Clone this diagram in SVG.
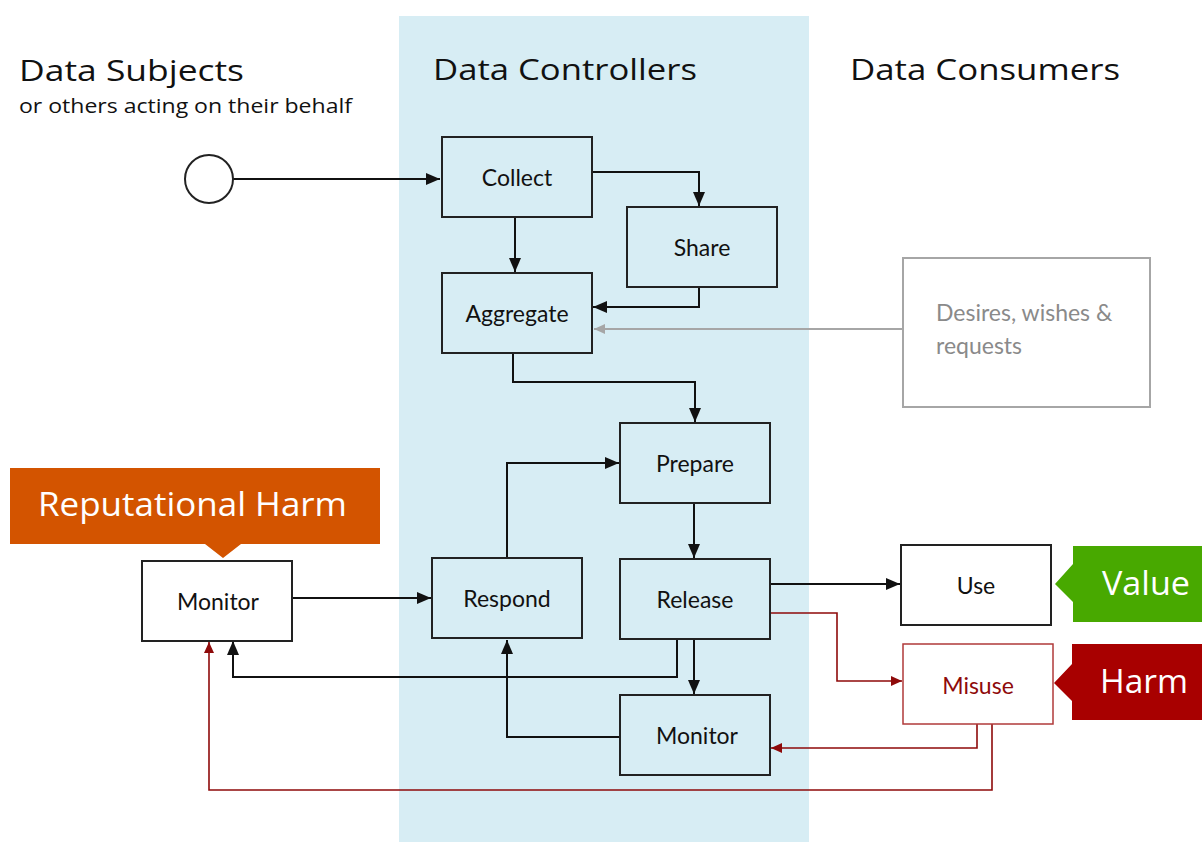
<svg xmlns="http://www.w3.org/2000/svg" width="1202" height="842" viewBox="0 0 1202 842">
  <style>
    .hdr { font-family: "Open Sans", "Liberation Sans", sans-serif; font-size: 30px; fill: #111; }
    .sub { font-family: "Open Sans", "Liberation Sans", sans-serif; font-size: 20px; fill: #111; }
    .box { fill: #d7edf4; stroke: #222; stroke-width: 2; }
    .wbox { fill: #fff; stroke: #222; stroke-width: 2; }
    .lbl { font-family: Lato, "Open Sans", sans-serif; font-size: 23px; fill: #111; text-anchor: middle; }
    .badge { font-family: "Open Sans", "Liberation Sans", sans-serif; font-size: 32px; fill: #fff; }
    .k { fill: none; stroke: #111; stroke-width: 2; }
    .r { fill: none; stroke: #8e0a0a; stroke-width: 1.6; }
    .g { fill: none; stroke: #a6a6a6; stroke-width: 2; }
  </style>
  <defs>
    <marker id="ak" viewBox="0 0 14 12" refX="14" refY="6" markerWidth="14" markerHeight="12" markerUnits="userSpaceOnUse" orient="auto">
      <path d="M0,0 L14,6 L0,12 Z" fill="#111"/>
    </marker>
    <marker id="ar" viewBox="0 0 11 10" refX="11" refY="5" markerWidth="11" markerHeight="10" markerUnits="userSpaceOnUse" orient="auto">
      <path d="M0,0 L11,5 L0,10 Z" fill="#8e0a0a"/>
    </marker>
    <marker id="ag" viewBox="0 0 11 10" refX="11" refY="5" markerWidth="11" markerHeight="10" markerUnits="userSpaceOnUse" orient="auto">
      <path d="M0,0 L11,5 L0,10 Z" fill="#a6a6a6"/>
    </marker>
  </defs>

  <rect width="1202" height="842" fill="#fff"/>
  <!-- controller lane -->
  <rect x="399" y="16" width="410" height="826" fill="#d7edf4"/>

  <!-- lane headings -->
  <g id="headings">
    <text class="hdr" x="19" y="81" textLength="225" lengthAdjust="spacingAndGlyphs">Data Subjects</text>
    <text class="sub" x="19" y="113" textLength="333" lengthAdjust="spacingAndGlyphs">or others acting on their behalf</text>
    <text class="hdr" x="433" y="80" textLength="264" lengthAdjust="spacingAndGlyphs">Data Controllers</text>
    <text class="hdr" x="850" y="80" textLength="270" lengthAdjust="spacingAndGlyphs">Data Consumers</text>
  </g>

  <!-- connectors -->
  <g id="connectors">
    <path class="k" d="M233,179 H440" marker-end="url(#ak)"/>
    <path class="k" d="M592,172 H699 V206" marker-end="url(#ak)"/>
    <path class="k" d="M515,217 V272" marker-end="url(#ak)"/>
    <path class="k" d="M699,287 V307 H593" marker-end="url(#ak)"/>
    <path class="g" d="M903,329 H594" marker-end="url(#ag)"/>
    <path class="k" d="M513,353 V382 H695 V422" marker-end="url(#ak)"/>
    <path class="k" d="M507,558 V463 H619" marker-end="url(#ak)"/>
    <path class="k" d="M694,503 V558" marker-end="url(#ak)"/>
    <path class="k" d="M292,598 H431" marker-end="url(#ak)"/>
    <path class="k" d="M770,584 H900" marker-end="url(#ak)"/>
    <path class="k" d="M694,639 V694" marker-end="url(#ak)"/>
    <path class="k" d="M677,639 V677 H233 V641" marker-end="url(#ak)"/>
    <path class="k" d="M620,737 H507 V640" marker-end="url(#ak)"/>
    <path class="r" d="M770,613 H837 V681 H902" marker-end="url(#ar)"/>
    <path class="r" d="M977,724 V748 H771" marker-end="url(#ar)"/>
    <path class="r" d="M992,724 V790 H209 V642" marker-end="url(#ar)"/>
  </g>

  <!-- start point -->
  <g id="start">
    <circle cx="209" cy="179" r="24" fill="#fff" stroke="#222" stroke-width="2"/>
  </g>

  <g id="collect">
    <rect class="box" x="442" y="137" width="150" height="80"/>
    <text class="lbl" x="517" y="186">Collect</text>
  </g>
  <g id="share">
    <rect class="box" x="627" y="207" width="150" height="80"/>
    <text class="lbl" x="702" y="256">Share</text>
  </g>
  <g id="aggregate">
    <rect class="box" x="442" y="273" width="150" height="80"/>
    <text class="lbl" x="517" y="322">Aggregate</text>
  </g>
  <g id="desires">
    <rect x="903" y="258" width="247" height="149" fill="#fff" stroke="#a6a6a6" stroke-width="2"/>
    <text font-family="Lato, 'Open Sans', sans-serif" font-size="23" fill="#8a8a8a">
      <tspan x="936" y="321">Desires, wishes &amp;</tspan>
      <tspan x="936" y="354">requests</tspan>
    </text>
  </g>
  <g id="prepare">
    <rect class="box" x="620" y="423" width="150" height="80"/>
    <text class="lbl" x="695" y="472">Prepare</text>
  </g>
  <g id="respond">
    <rect class="box" x="432" y="558" width="150" height="80"/>
    <text class="lbl" x="507" y="607">Respond</text>
  </g>
  <g id="release">
    <rect class="box" x="620" y="559" width="150" height="80"/>
    <text class="lbl" x="695" y="608">Release</text>
  </g>
  <g id="monitor-controller">
    <rect class="box" x="620" y="695" width="150" height="80"/>
    <text class="lbl" x="697" y="744">Monitor</text>
  </g>
  <g id="monitor-subject">
    <rect class="wbox" x="142" y="561" width="150" height="80"/>
    <text class="lbl" x="218" y="610">Monitor</text>
  </g>
  <g id="use">
    <rect class="wbox" x="901" y="545" width="150" height="80"/>
    <text class="lbl" x="976" y="594">Use</text>
  </g>
  <g id="misuse">
    <rect x="903" y="644" width="150" height="80" fill="#fff" stroke="#b03a3a" stroke-width="1.5"/>
    <text class="lbl" x="978" y="694" fill="#8e0a0a" style="fill:#8e0a0a">Misuse</text>
  </g>

  <!-- outcome callouts -->
  <g id="reputational-harm">
    <path d="M10,468 H380 V544 H241 L223,558 L205,544 H10 Z" fill="#d35400"/>
    <text class="badge" x="38" y="516" textLength="309" lengthAdjust="spacingAndGlyphs">Reputational Harm</text>
  </g>
  <g id="value">
    <path d="M1073,546 H1202 V622 H1073 V602 L1055,584 L1073,564 Z" fill="#48a900"/>
    <text class="badge" x="1102" y="595" textLength="88" lengthAdjust="spacingAndGlyphs">Value</text>
  </g>
  <g id="harm">
    <path d="M1072,644 H1202 V720 H1072 V701 L1054,683 L1072,664 Z" fill="#a80000"/>
    <text class="badge" x="1100" y="693" textLength="88" lengthAdjust="spacingAndGlyphs">Harm</text>
  </g>
</svg>
